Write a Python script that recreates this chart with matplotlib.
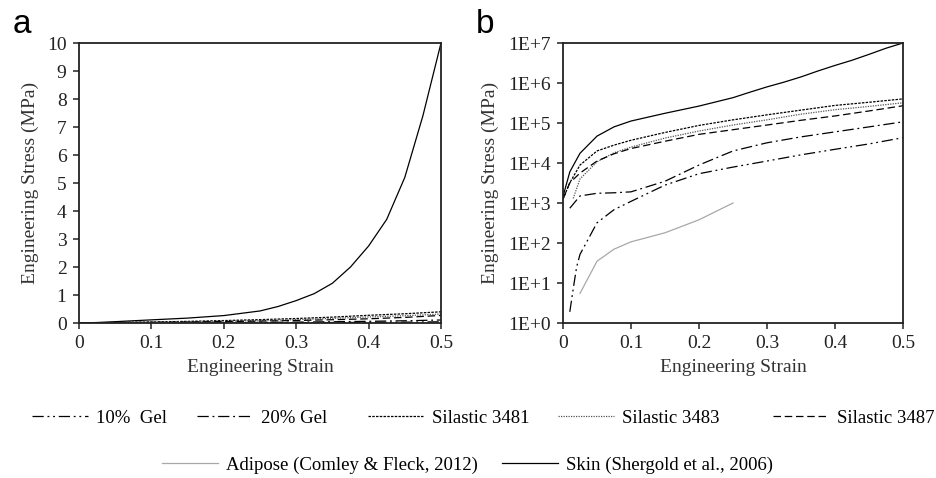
import matplotlib
matplotlib.use("Agg")
import matplotlib.pyplot as plt
from matplotlib.lines import Line2D
from matplotlib.ticker import FixedLocator, FuncFormatter, NullLocator
import numpy as np

plt.rcParams['font.family'] = ['Liberation Serif', 'DejaVu Serif']

# stress values in Pa (panel b); panel a shows the same data in MPa
skin_x = [0, 0.01, 0.025, 0.05, 0.075, 0.1, 0.15, 0.2, 0.25, 0.275, 0.3, 0.325, 0.35,
          0.375, 0.4, 0.425, 0.45, 0.475, 0.5]
skin_y = [1.45e3, 6.0e3, 1.75e4, 4.7e4, 8.0e4, 1.12e5, 1.75e5, 2.65e5, 4.3e5, 5.9e5, 8.0e5,
          1.05e6, 1.42e6, 2.0e6, 2.75e6, 3.7e6, 5.2e6, 7.4e6, 1.0e7]

s3481_x = [0, 0.01, 0.025, 0.05, 0.075, 0.1, 0.15, 0.2, 0.25, 0.3, 0.35, 0.4, 0.45, 0.5]
s3481_y = [1.25e3, 3.2e3, 8.9e3, 2.0e4, 2.8e4, 3.7e4, 5.8e4, 8.7e4, 1.2e5, 1.6e5, 2.1e5, 2.75e5, 3.3e5, 4.0e5]

s3483_x = [0.015, 0.025, 0.05, 0.075, 0.1, 0.15, 0.2, 0.25, 0.3, 0.35, 0.4, 0.45, 0.5]
s3483_y = [1.3e3, 4.0e3, 1.07e4, 1.8e4, 2.5e4, 4.2e4, 6.3e4, 8.9e4, 1.2e5, 1.66e5, 2.15e5, 2.6e5, 3.2e5]

s3487_x = [0, 0.01, 0.025, 0.05, 0.075, 0.1, 0.15, 0.2, 0.25, 0.3, 0.35, 0.4, 0.45, 0.5]
s3487_y = [1.25e3, 3.2e3, 5.6e3, 1.12e4, 1.7e4, 2.3e4, 3.5e4, 5.2e4, 6.8e4, 8.9e4, 1.17e5, 1.5e5, 2.0e5, 2.7e5]

gel20_x = [0.01, 0.025, 0.05, 0.075, 0.1, 0.15, 0.2, 0.25, 0.3, 0.35, 0.4, 0.45, 0.5]
gel20_y = [7.4e2, 1.5e3, 1.75e3, 1.8e3, 1.9e3, 3.5e3, 8.9e3, 2.0e4, 3.2e4, 4.5e4, 6.0e4, 8.0e4, 1.07e5]

gel10_x = [0.01, 0.015, 0.02, 0.025, 0.05, 0.075, 0.1, 0.15, 0.2, 0.25, 0.3, 0.35, 0.4, 0.45, 0.5]
gel10_y = [1.9, 7.1, 25, 52, 3.2e2, 6.8e2, 1.1e3, 2.8e3, 5.4e3, 7.9e3, 1.12e4, 1.6e4, 2.2e4, 3.0e4, 4.3e4]

adipose_x = [0.025, 0.05, 0.075, 0.1, 0.15, 0.2, 0.25]
adipose_y = [5.5, 35, 70, 107, 180, 380, 1000]

labels = ["10%  Gel", "20% Gel", "Silastic 3481", "Silastic 3483", "Silastic 3487",
          "Adipose (Comley & Fleck, 2012)", "Skin (Shergold et al., 2006)"]

series = [
    (gel10_x, gel10_y, dict(color='black', ls=(0, (9, 3, 1.5, 3, 1.5, 3)))),
    (gel20_x, gel20_y, dict(color='black', ls=(0, (9, 3, 1.5, 3)))),
    (s3481_x, s3481_y, dict(color='black', ls=(0, (2, 1)))),
    (s3483_x, s3483_y, dict(color='#555555', ls=(0, (1, 1)))),
    (s3487_x, s3487_y, dict(color='black', ls=(0, (6, 3)))),
    (adipose_x, adipose_y, dict(color='#a8a8a8', ls='-')),
    (skin_x, skin_y, dict(color='black', ls='-')),
]

fig = plt.figure(figsize=(9.36, 4.78), dpi=100)
ax_a = fig.add_axes([79 / 936, 1 - 323 / 478, 362 / 936, 280 / 478])
ax_b = fig.add_axes([563 / 936, 1 - 323 / 478, 340 / 936, 280 / 478])

for x, y, st in series:
    ax_a.plot(x, np.array(y) / 1e6, lw=0.9, **st)
    ax_b.plot(x, y, lw=0.9, **st)

ax_a.set_ylim(0, 10)
ax_a.set_yticks(range(0, 11))
ax_b.set_yscale('log')
ax_b.set_ylim(1, 1e7)
ax_b.yaxis.set_major_locator(FixedLocator([10.0 ** k for k in range(8)]))
ax_b.yaxis.set_minor_locator(NullLocator())
ax_b.yaxis.set_major_formatter(FuncFormatter(lambda v, p: f"1E+{int(round(np.log10(v)))}"))

for ax in (ax_a, ax_b):
    ax.set_xlim(0, 0.5)
    ax.set_xticks([0, 0.1, 0.2, 0.3, 0.4, 0.5])
    ax.xaxis.set_major_formatter(FuncFormatter(lambda v, p: f"{v:g}"))
    ax.tick_params(direction='out', length=4, width=1.1, labelsize=14, colors='#222222', pad=5)
    for s in ax.spines.values():
        s.set_linewidth(1.3)
        s.set_color('#222222')
    ax.set_xlabel("Engineering Strain", fontsize=14, color='#333333', labelpad=5)
    ax.set_ylabel("Engineering Stress (MPa)", fontsize=14, color='#333333', labelpad=6)

fig.text(13 / 936, 1 - 33 / 478, "a", family='Liberation Sans', fontsize=24, va='baseline')
fig.text(476 / 936, 1 - 33 / 478, "b", family='Liberation Sans', fontsize=24, va='baseline')

# legend entries placed one by one, as in the original layout
legend_pos = [(32, 418), (197, 418), (368, 418), (558, 418), (773, 418), (162, 465), (502, 465)]
for (x, y, st), lab, (px, py) in zip(series, labels, legend_pos):
    h = Line2D([], [], lw=0.9, **st)
    fig.legend([h], [lab], loc='center left', bbox_to_anchor=(px / 936, 1 - py / 478),
               frameon=False, handlelength=3.0, handletextpad=0.4, borderpad=0,
               borderaxespad=0, fontsize=13.5)

fig.savefig("out.png", dpi=100)
